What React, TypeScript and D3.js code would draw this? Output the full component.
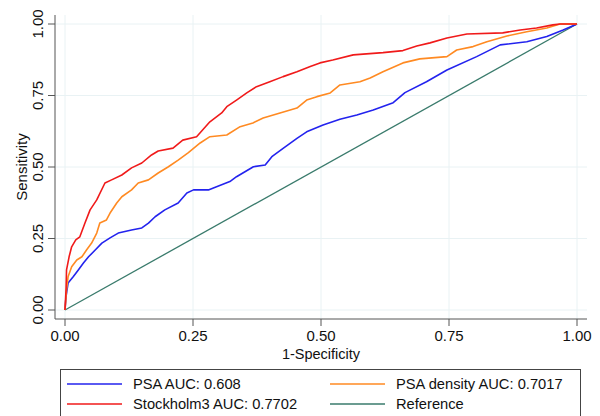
import React from "react";
import * as d3 from "d3";

// ROC points: [1-specificity, sensitivity]
const psa: [number, number][] = [
  [0, 0], [0.002, 0.047], [0.006, 0.094], [0.016, 0.116], [0.026, 0.14], [0.036, 0.164],
  [0.046, 0.186], [0.059, 0.21], [0.072, 0.234], [0.088, 0.252], [0.104, 0.269], [0.13, 0.28],
  [0.15, 0.287], [0.163, 0.304], [0.176, 0.326], [0.195, 0.35], [0.221, 0.374], [0.238, 0.409],
  [0.251, 0.42], [0.28, 0.42], [0.296, 0.431], [0.322, 0.449], [0.335, 0.466], [0.368, 0.501],
  [0.391, 0.507], [0.404, 0.536], [0.426, 0.565], [0.453, 0.6], [0.472, 0.623], [0.504, 0.647],
  [0.537, 0.667], [0.57, 0.682], [0.602, 0.699], [0.641, 0.725], [0.664, 0.76], [0.706, 0.798],
  [0.746, 0.839], [0.804, 0.886], [0.85, 0.927], [0.902, 0.938], [0.941, 0.956], [0.973, 0.979],
  [1, 1],
];

const psaDensity: [number, number][] = [
  [0, 0], [0.003, 0.07], [0.006, 0.116], [0.013, 0.151], [0.023, 0.175], [0.033, 0.186],
  [0.042, 0.21], [0.052, 0.234], [0.062, 0.269], [0.068, 0.304], [0.081, 0.315], [0.088, 0.339],
  [0.101, 0.374], [0.111, 0.396], [0.13, 0.42], [0.143, 0.444], [0.163, 0.455], [0.182, 0.479],
  [0.202, 0.501], [0.221, 0.524], [0.241, 0.55], [0.264, 0.584], [0.283, 0.606], [0.316, 0.612],
  [0.342, 0.641], [0.367, 0.654], [0.387, 0.671], [0.42, 0.689], [0.453, 0.706], [0.472, 0.734],
  [0.492, 0.746], [0.518, 0.759], [0.537, 0.787], [0.576, 0.798], [0.596, 0.811], [0.621, 0.833],
  [0.66, 0.864], [0.693, 0.878], [0.746, 0.886], [0.765, 0.909], [0.797, 0.921], [0.824, 0.938],
  [0.863, 0.958], [0.902, 0.973], [0.941, 0.986], [0.967, 1], [1, 1],
];

const sthlm3: [number, number][] = [
  [0, 0], [0.002, 0.07], [0.003, 0.14], [0.008, 0.186], [0.013, 0.221], [0.021, 0.245],
  [0.029, 0.256], [0.039, 0.304], [0.049, 0.35], [0.062, 0.385], [0.078, 0.444], [0.091, 0.455],
  [0.111, 0.472], [0.13, 0.497], [0.15, 0.514], [0.169, 0.542], [0.182, 0.556], [0.211, 0.566],
  [0.23, 0.594], [0.257, 0.606], [0.283, 0.658], [0.306, 0.689], [0.316, 0.711], [0.335, 0.734],
  [0.355, 0.759], [0.374, 0.781], [0.4, 0.798], [0.426, 0.816], [0.453, 0.833], [0.479, 0.851],
  [0.498, 0.864], [0.523, 0.874], [0.563, 0.892], [0.621, 0.9], [0.66, 0.907], [0.687, 0.923],
  [0.713, 0.934], [0.746, 0.951], [0.785, 0.965], [0.855, 0.969], [0.889, 0.979], [0.921, 0.986],
  [0.953, 0.997], [0.967, 1], [1, 1],
];

const reference: [number, number][] = [[0, 0], [1, 1]];

const ticks = [0, 0.25, 0.5, 0.75, 1];

const series = [
  { name: "PSA AUC: 0.608", data: psa, color: "#2323ee" },
  { name: "PSA density AUC: 0.7017", data: psaDensity, color: "#ff8a22" },
  { name: "Stockholm3 AUC: 0.7702", data: sthlm3, color: "#f01a1a" },
  { name: "Reference", data: reference, color: "#3a7b6c" },
];

const font = "'Liberation Sans', Arial, Helvetica, sans-serif";

export default function App() {
  const width = 600;
  const height = 416;
  const plot = { left: 55, right: 587, top: 15, bottom: 319 };

  const x = d3.scaleLinear().domain([0, 1]).range([65, 577]);
  const y = d3.scaleLinear().domain([0, 1]).range([310, 24]);

  const line = d3.line<[number, number]>()
    .x(d => x(d[0]))
    .y(d => y(d[1]));

  const fmt = d3.format(".2f");

  // draw order: reference underneath, then psa, density, sthlm3
  const drawOrder = [series[3], series[0], series[1], series[2]];

  return (
    <svg width={width} height={height} style={{ position: "absolute", left: 0, top: 0 }} fontFamily={font}>
      <rect width={width} height={height} fill="#fff" />

      {/* grid */}
      <g stroke="#e9f2f4" strokeWidth={1}>
        {ticks.map(t => (
          <line key={"gx" + t} x1={x(t)} x2={x(t)} y1={plot.top} y2={plot.bottom} />
        ))}
        {ticks.map(t => (
          <line key={"gy" + t} x1={plot.left} x2={plot.right} y1={y(t)} y2={y(t)} />
        ))}
      </g>

      {/* curves */}
      <g fill="none" strokeLinejoin="round">
        {drawOrder.map(s => (
          <path key={s.name} d={line(s.data) || ""} stroke={s.color}
            strokeWidth={s.name === "Reference" ? 1.3 : 1.6} />
        ))}
      </g>

      {/* axes */}
      <g stroke="#555" strokeWidth={1}>
        <line x1={plot.left} x2={plot.left} y1={plot.top} y2={plot.bottom} />
        <line x1={plot.left} x2={plot.right} y1={plot.bottom} y2={plot.bottom} />
        {ticks.map(t => (
          <line key={"tx" + t} x1={x(t)} x2={x(t)} y1={plot.bottom} y2={plot.bottom + 7} />
        ))}
        {ticks.map(t => (
          <line key={"ty" + t} x1={plot.left - 7} x2={plot.left} y1={y(t)} y2={y(t)} />
        ))}
      </g>

      <g fontSize={15} fill="#111" textAnchor="middle">
        {ticks.map(t => (
          <text key={"lx" + t} x={x(t)} y={341}>{fmt(t)}</text>
        ))}
        {ticks.map(t => (
          <text key={"ly" + t} transform={`translate(43,${y(t)}) rotate(-90)`}>{fmt(t)}</text>
        ))}
        <text x={x(0.5)} y={359} fontSize={14.5}>1-Specificity</text>
        <text transform={`translate(27,${y(0.5)}) rotate(-90)`}>Sensitivity</text>
      </g>

      {/* legend */}
      <g>
        <rect x={60.5} y={369.5} width={520} height={60} fill="#fff" stroke="#444" strokeWidth={1} />
        {[series[0], series[1], series[2], series[3]].map((s, i) => {
          const col = i % 2;
          const row = Math.floor(i / 2);
          const lx = col === 0 ? 67 : 330;
          const ly = 384 + row * 20;
          return (
            <g key={s.name}>
              <line x1={lx} x2={lx + 55} y1={ly} y2={ly} stroke={s.color} strokeWidth={1.5} />
              <text x={lx + 66} y={ly + 5} fontSize={14.7} fill="#111">{s.name}</text>
            </g>
          );
        })}
      </g>
    </svg>
  );
}
